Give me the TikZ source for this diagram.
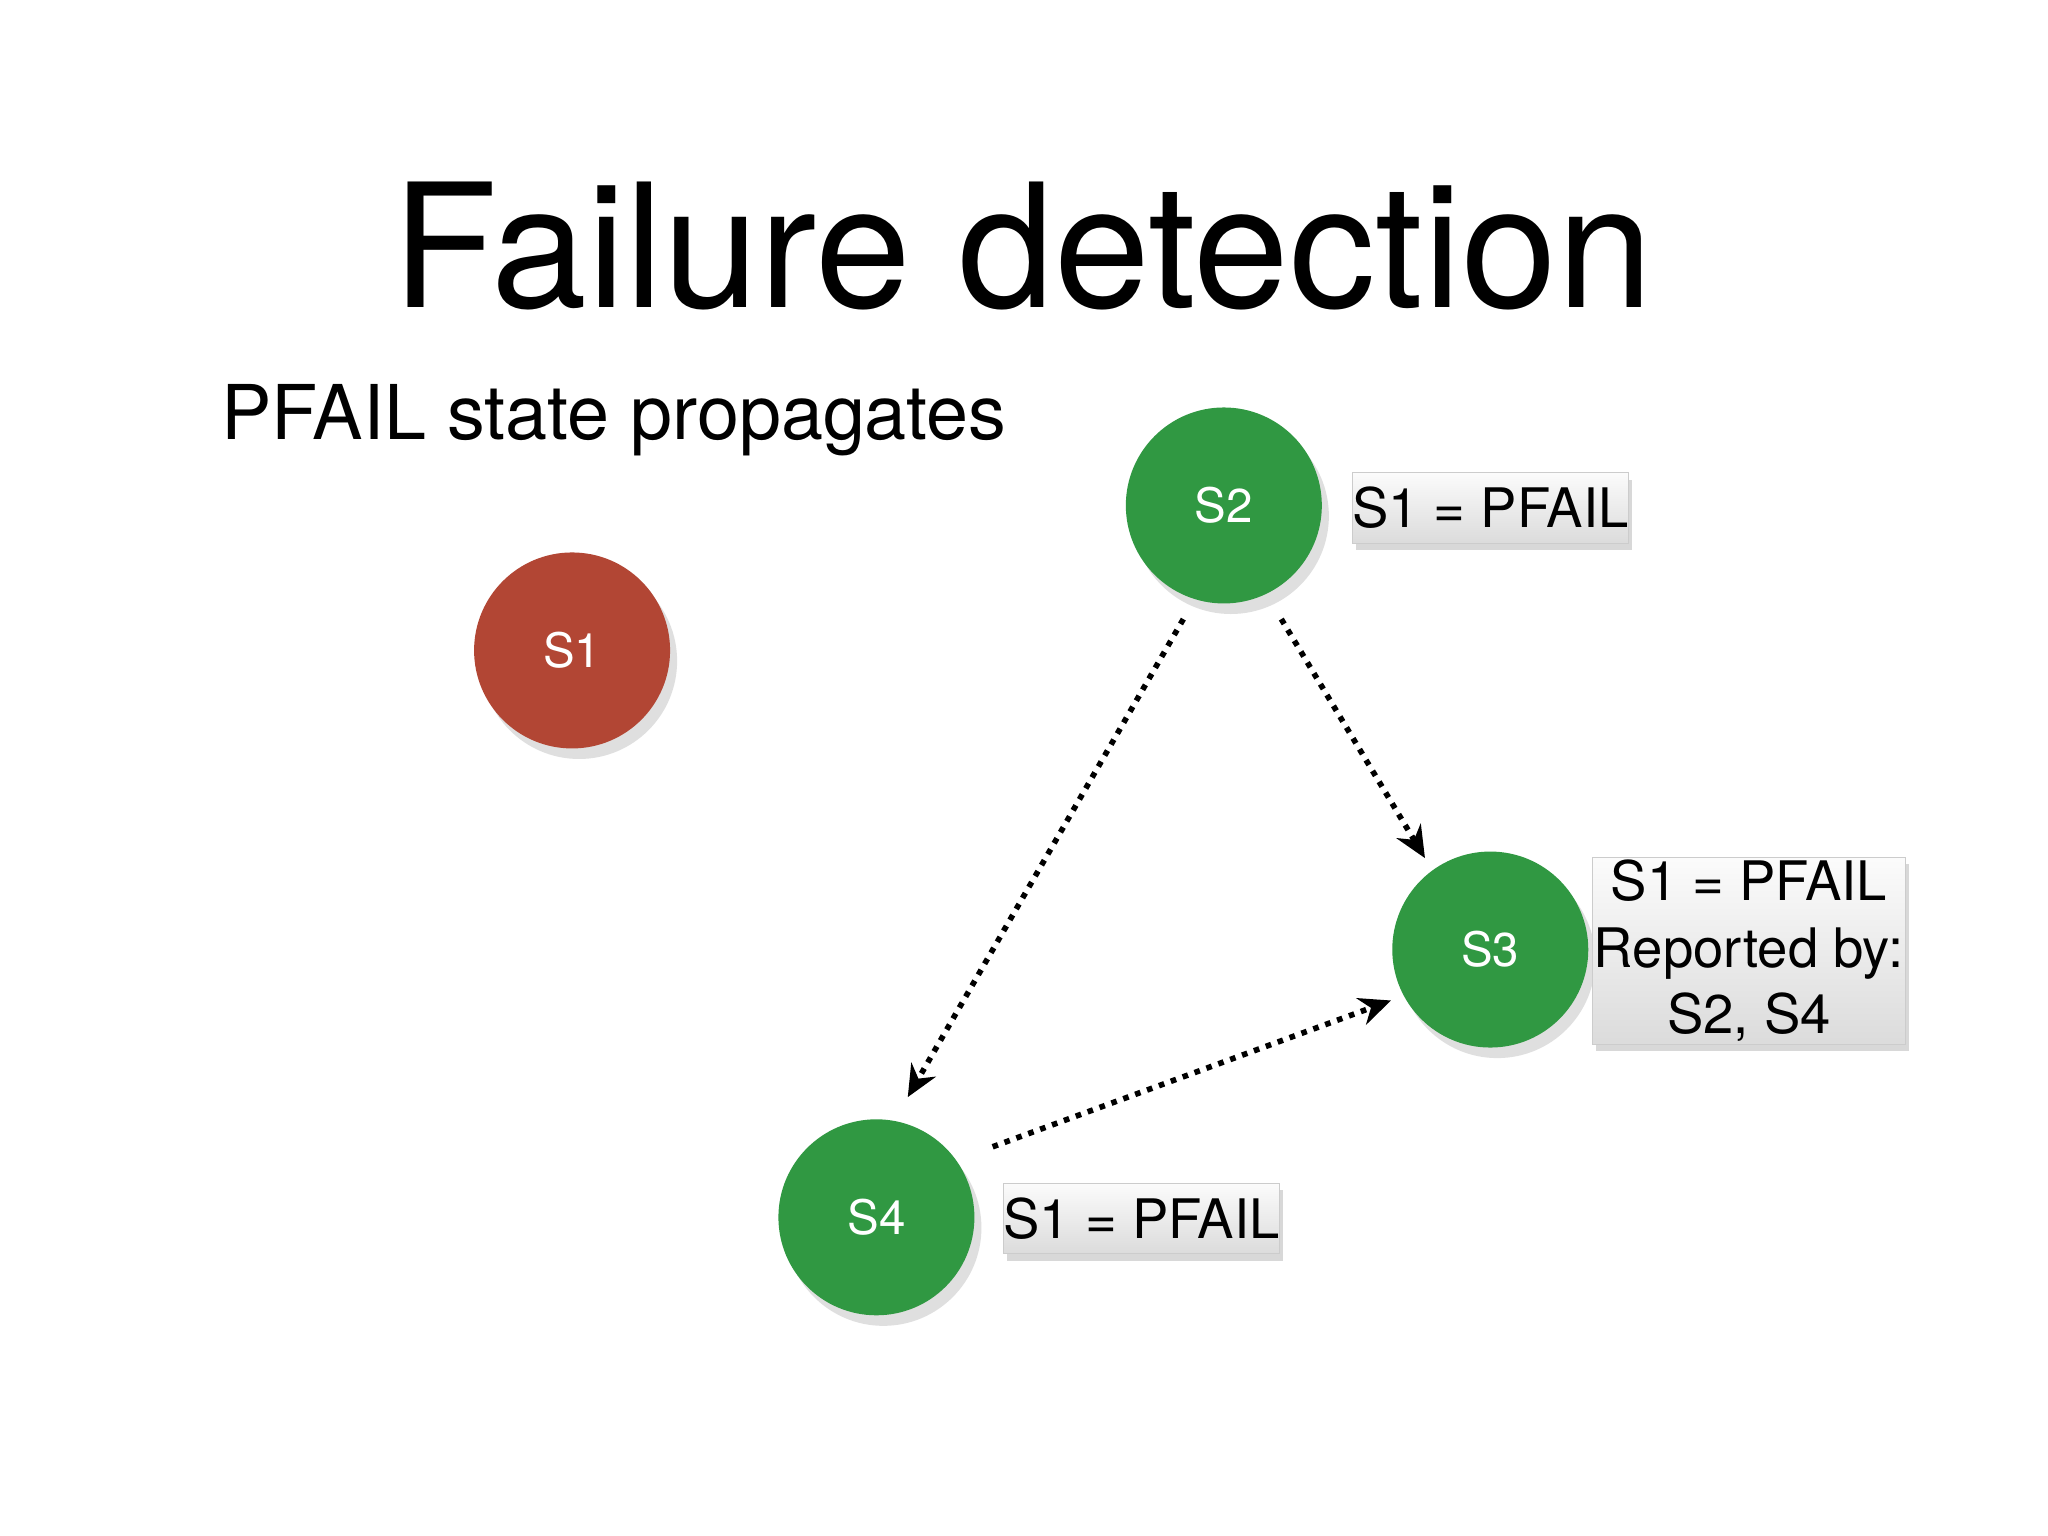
\documentclass[tikz,border=0pt]{standalone}
\usepackage{fontspec}
\setmainfont{TeX Gyre Heros}
\usetikzlibrary{arrows.meta,shadows}
\definecolor{grn}{RGB}{48,152,66}
\definecolor{rd}{RGB}{178,70,52}
\begin{document}
\begin{tikzpicture}[x=0.01306cm,y=-0.01306cm,
  srv/.style={circle,minimum size=1.96cm,inner sep=0pt,text=white,font=\fontsize{13.5}{16}\selectfont,drop shadow={opacity=0.25,shadow xshift=2pt,shadow yshift=-3pt}},
  lbl/.style={top color=gray!3,bottom color=gray!28,draw=gray!40,line width=0.3pt,font=\fontsize{15.5}{19}\selectfont,align=center,inner sep=0pt,drop shadow={opacity=0.3,shadow xshift=1pt,shadow yshift=-2pt}},
  msg/.style={line width=1.6pt,dotted,-{Stealth[length=9pt,width=8pt]}}]
\useasboundingbox[fill=white] (0,0) rectangle (1568,1176);
\node (title) at (783,188) {\fontsize{49}{58}\selectfont Failure detection};
\node[anchor=west] (sub) at (160,322) {\fontsize{21.5}{26}\selectfont PFAIL state propagates};
\node[srv,fill=rd] (s1) at (438,498) {S1};
\node[srv,fill=grn] (s2) at (937,387) {S2};
\node[srv,fill=grn] (s3) at (1141,727) {S3};
\node[srv,fill=grn] (s4) at (671,932) {S4};
\node[lbl,minimum width=198*0.01306cm,minimum height=54*0.01306cm] (l2) at (1141,389) {S1 = PFAIL};
\node[lbl,minimum width=240*0.01306cm,minimum height=143*0.01306cm] (l3) at (1339,728) {S1 = PFAIL\\Reported by:\\S2, S4};
\node[lbl,minimum width=198*0.01306cm,minimum height=54*0.01306cm] (l4) at (874,933) {S1 = PFAIL};
\coordinate (a1) at (981,474); \coordinate (b1) at (1091,657);
\coordinate (a2) at (906,474); \coordinate (b2) at (695,840);
\coordinate (a3) at (760,878); \coordinate (b3) at (1065,766);
\draw[msg] (a1) -- (b1);
\draw[msg] (a2) -- (b2);
\draw[msg] (a3) -- (b3);
\end{tikzpicture}
\end{document}
